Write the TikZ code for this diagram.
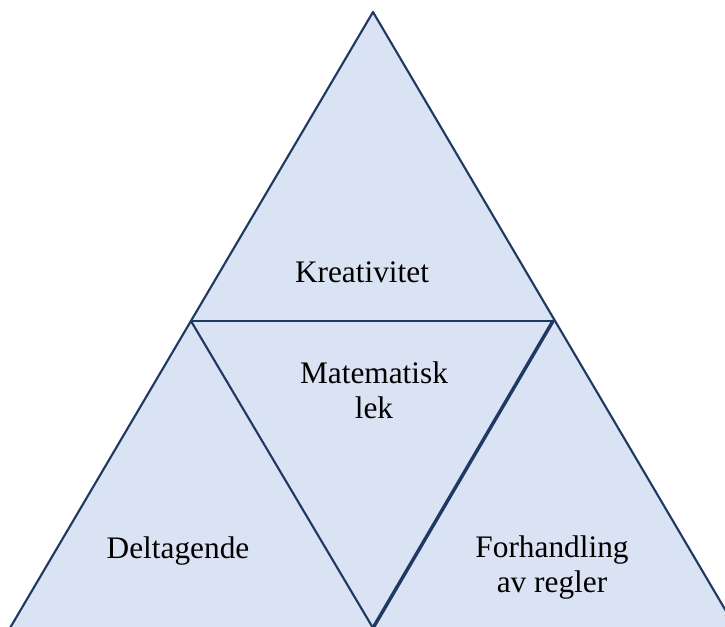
\documentclass[tikz,border=0pt]{standalone}
\usepackage{fontspec}
\setmainfont{Liberation Serif}
\usepackage{xcolor}
\usetikzlibrary{positioning}
\definecolor{TriFill}{HTML}{DAE3F3}
\definecolor{TriLine}{HTML}{203864}
\tikzset{
    % Filled area of the pieces
    piecefill/.style={
        fill=TriFill
    },
    % Edge of a piece
    pieceedge/.style={
        draw=TriLine,
        line width=1.6pt,
        line cap=round
    },
    % Heavier edges
    heavyedge/.style={
        pieceedge,
        line width=2.6pt
    },
    % Label text
    labeltext/.style={
        align=center,
        inner sep=0pt,
        font=\fontsize{23.5}{26.2}\selectfont
    }
}

\begin{document}
\begin{tikzpicture}[x=0.75pt,y=-0.75pt]
        \useasboundingbox (0,0) rectangle (725,626);
        \clip (0,0) rectangle (725,626);

        % Corners
        \coordinate (apex) at (373,12);
        \coordinate (lmid) at (191,321);
        \coordinate (rmid) at (553,321);
        \coordinate (bl) at (10,628);
        \coordinate (bm) at (373,628);
        \coordinate (br) at (736,628);

        % Pieces
        \fill[piecefill] (apex) -- (bl) -- (br) -- cycle;

        % Edges
        \draw[pieceedge] (apex) -- (bl);
        \draw[pieceedge] (apex) -- (br);
        \draw[pieceedge] (lmid) -- (bm);
        \draw[pieceedge,line width=2.2pt] (lmid) -- (rmid);
        \draw[heavyedge] (rmid) -- (bm);

        % Labels
        \node[labeltext] (kreativ) at (362,272) {Kreativitet};
        \node[labeltext] (lek) at (374,390) {Matematisk\\lek};
        \node[labeltext] (delta) at (178,551) {Deltagende};
        \node[labeltext] (regler) at (552,567.5) {Forhandling\\av regler};
    \end{tikzpicture}
\end{document}
